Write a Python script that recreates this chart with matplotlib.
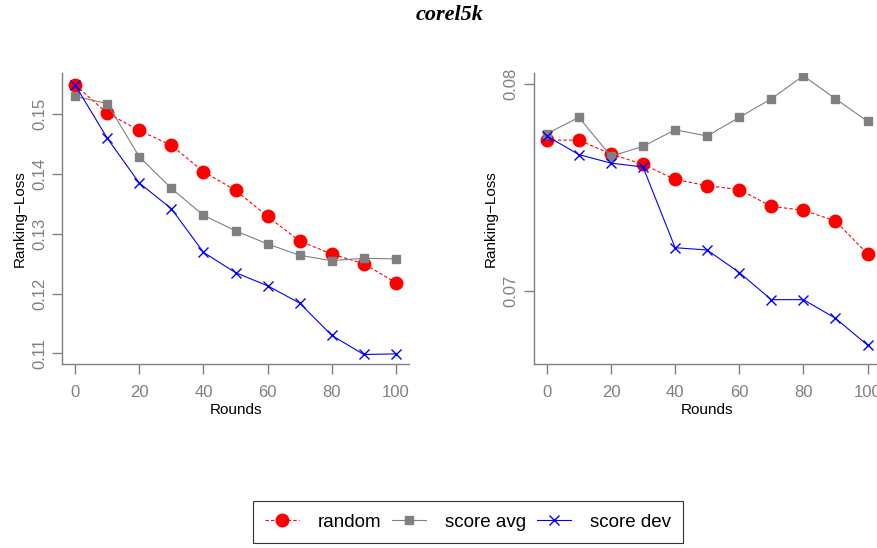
import matplotlib
matplotlib.use('Agg')
import matplotlib.pyplot as plt

plt.rcParams['font.family'] = ['Liberation Sans', 'DejaVu Sans']

rounds = [0, 10, 20, 30, 40, 50, 60, 70, 80, 90, 100]

# left panel
left_random = [0.1549, 0.1502, 0.1473, 0.1448, 0.1404, 0.1373, 0.1329,
               0.1288, 0.1266, 0.1250, 0.1218]
left_avg = [0.1530, 0.1518, 0.1429, 0.1376, 0.1331, 0.1305, 0.1283,
            0.1264, 0.1255, 0.1259, 0.1258]
left_dev = [0.1549, 0.1460, 0.1385, 0.1342, 0.1269, 0.1235, 0.1213,
            0.1184, 0.1130, 0.1098, 0.1099]

# right panel
right_random = [0.07729, 0.07729, 0.07662, 0.07612, 0.07539, 0.07509,
                0.07490, 0.07409, 0.07390, 0.07338, 0.07179]
right_avg = [0.07760, 0.07839, 0.07651, 0.07699, 0.07779, 0.07749,
             0.07839, 0.07929, 0.08040, 0.07929, 0.07820]
right_dev = [0.07749, 0.07659, 0.07618, 0.07599, 0.07209, 0.07198,
             0.07089, 0.06958, 0.06958, 0.06868, 0.06738]

left_yticks = [0.11, 0.12, 0.13, 0.14, 0.15]
right_yticks = [0.07, 0.08]
xticks = [0, 20, 40, 60, 80, 100]

GRAY = '#808080'


def draw_panel(ax, rnd, avg, dev, yticks, ylim):
    l1, = ax.plot(rounds, rnd, color='red', ls=(0, (3, 2)), lw=0.8,
                  marker='o', ms=9, mec='red', mfc='red', label='random')
    l2, = ax.plot(rounds, avg, color=GRAY, ls='-', lw=0.8,
                  marker='s', ms=5.5, label='score avg')
    l3, = ax.plot(rounds, dev, color='blue', ls='-', lw=0.8,
                  marker='x', ms=7, mew=1, label='score dev')
    ax.set_xlim(-4, 104)
    ax.set_ylim(*ylim)
    ax.set_xticks(xticks)
    ax.set_yticks(yticks)
    ax.set_yticklabels([f'{t:.2f}' for t in yticks], rotation=90, va='center')
    for s in ['top', 'right']:
        ax.spines[s].set_visible(False)
    for s in ['left', 'bottom']:
        ax.spines[s].set_color(GRAY)
        ax.spines[s].set_linewidth(1.0)
    ax.tick_params(axis='both', colors=GRAY, labelcolor=GRAY, labelsize=12,
                   length=7, width=1.0, direction='out')
    ax.tick_params(axis='x', pad=8)
    ax.tick_params(axis='y', pad=4)
    ax.set_xlabel('Rounds', fontsize=11, labelpad=2)
    ax.set_ylabel('Ranking\u2212Loss', fontsize=11, labelpad=4)
    return [l1, l2, l3]


def main():
    fig = plt.figure(figsize=(8.78, 5.48), dpi=100)
    ax = fig.add_axes([0.0710, 0.3358, 0.3945, 0.5304])
    bx = fig.add_axes([0.6082, 0.3358, 0.3945, 0.5304])

    handles = draw_panel(ax, left_random, left_avg, left_dev,
                         left_yticks, (0.10821, 0.15686))
    draw_panel(bx, right_random, right_avg, right_dev,
               right_yticks, (0.06647, 0.08052))

    fig.text(0.512, 0.972, 'corel5k', ha='center', va='center',
             fontsize=16, fontweight='bold', fontstyle='italic',
             family=['Liberation Serif', 'DejaVu Serif'])

    leg = fig.legend(handles=handles, loc='center', ncol=3,
                     bbox_to_anchor=(0.533, 0.0474), fontsize=13.5,
                     frameon=True, fancybox=False, edgecolor='black',
                     handlelength=1.8, handletextpad=1.0, columnspacing=0.6,
                     borderpad=0.65, borderaxespad=0)
    leg.get_frame().set_linewidth(0.8)

    fig.savefig('out.png', dpi=100)


if __name__ == '__main__':
    main()
